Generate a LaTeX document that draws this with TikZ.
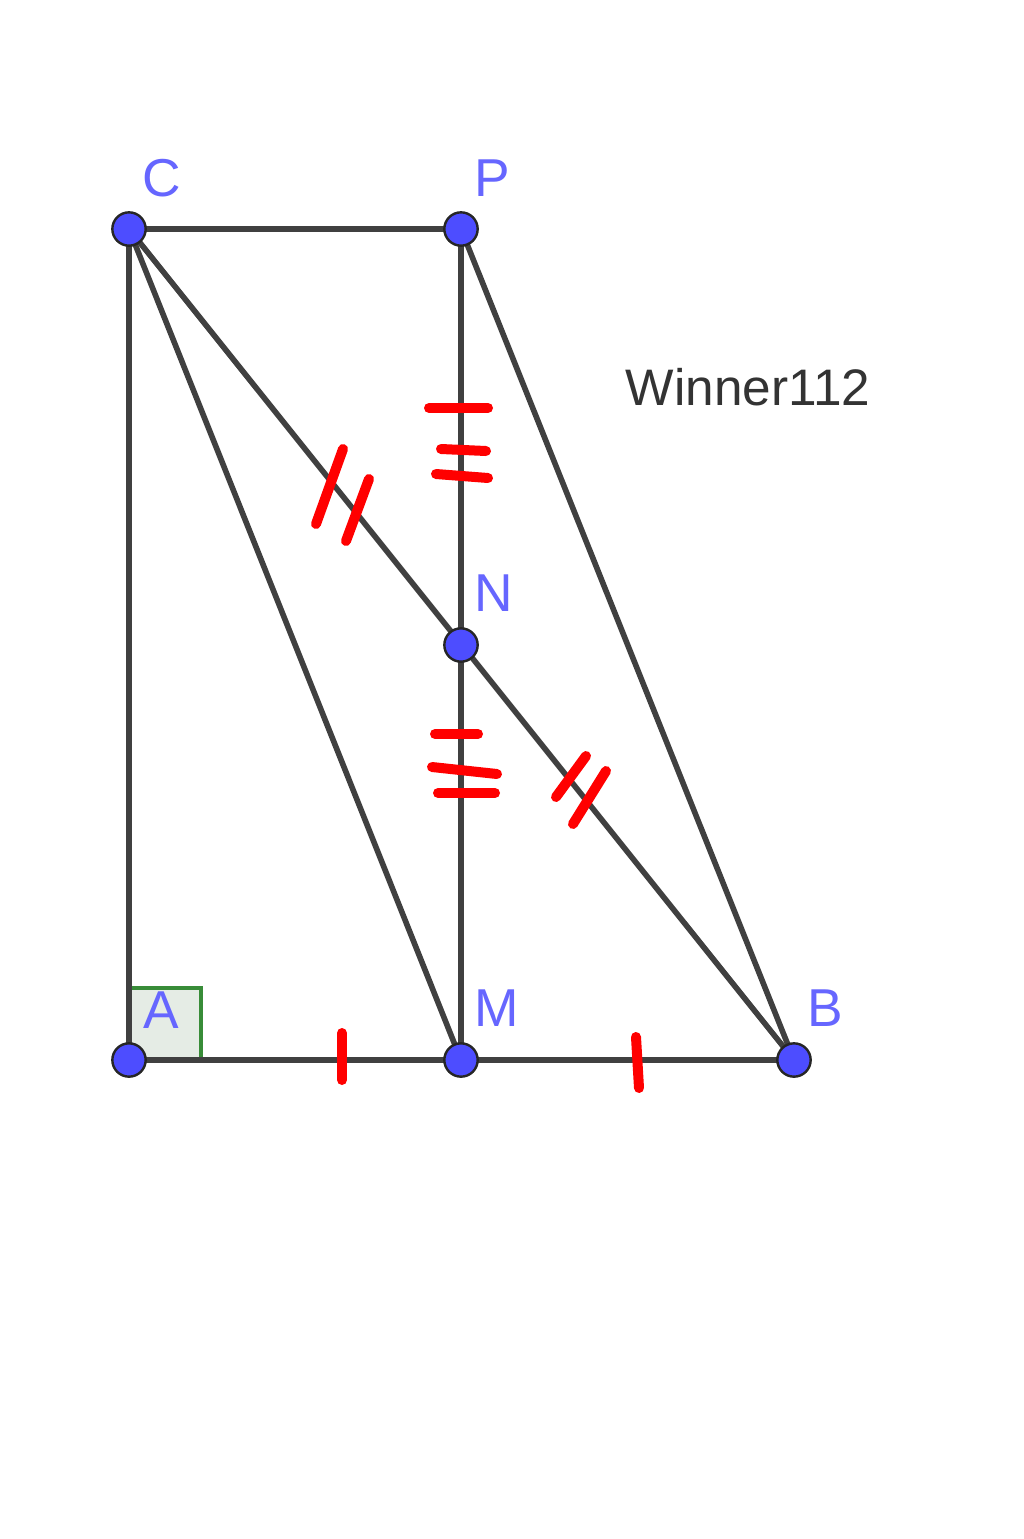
\documentclass[tikz,border=0pt]{standalone}
\usepackage{fontspec}
\setmainfont{Liberation Sans}
\definecolor{seg}{RGB}{64,64,64}
\definecolor{ptfill}{RGB}{77,77,255}
\definecolor{lbl}{RGB}{102,102,255}
\definecolor{angfill}{RGB}{229,236,229}
\definecolor{angline}{RGB}{56,140,56}
\begin{document}
\begin{tikzpicture}[x=0.75pt,y=-0.75pt,
  segline/.style={draw=seg,line width=4.2pt},
  tick/.style={draw=red,line width=7.5pt,line cap=round},
  dot/.style={circle,fill=ptfill,draw=black!85,line width=1.8pt,minimum size=25pt,inner sep=0pt},
  ptlabel/.style={text=lbl,font=\fontsize{40}{44}\selectfont,inner sep=0pt}]
\useasboundingbox (0,0) rectangle (1024,1539);
\fill[white] (0,0) rectangle (1024,1539);
\coordinate (C) at (129,229);
\coordinate (P) at (461,229);
\coordinate (N) at (461,645);
\coordinate (A) at (129,1060);
\coordinate (M) at (461,1060);
\coordinate (B) at (794,1060);
% right angle marker
\filldraw[fill=angfill,draw=angline,line width=3pt] (129,988) rectangle (201,1060);
% segments
\draw[segline] (C) -- (P);
\draw[segline] (C) -- (A);
\draw[segline] (A) -- (B);
\draw[segline] (P) -- (M);
\draw[segline] (C) -- (M);
\draw[segline] (C) -- (B);
\draw[segline] (P) -- (B);
% tick marks
\draw[tick] (342,1033) -- (342,1080);
\draw[tick] (636,1037) -- (639,1088);
\draw[tick] (429,408) -- (488,408);
\draw[tick] (441,449) -- (486,451);
\draw[tick] (436,474) -- (488,478);
\draw[tick] (435,734) -- (478,734);
\draw[tick] (432,767) -- (497,774);
\draw[tick] (438,793) -- (495,793);
\draw[tick] (343,449) -- (316,524);
\draw[tick] (369,479) -- (346,541);
\draw[tick] (586,756) -- (556,797);
\draw[tick] (606,771) -- (573,824);
% points
\node[dot] (nC) at (C) {};
\node[dot] (nP) at (P) {};
\node[dot] (nN) at (N) {};
\node[dot] (nA) at (A) {};
\node[dot] (nM) at (M) {};
\node[dot] (nB) at (B) {};
% labels
\node[ptlabel] (lC) at (162,178) {C};
\node[ptlabel] (lP) at (492,178) {P};
\node[ptlabel] (lN) at (494,593) {N};
\node[ptlabel] (lA) at (161,1010) {A};
\node[ptlabel] (lM) at (497,1008) {M};
\node[ptlabel] (lB) at (825,1008) {B};
\node[text=black!80,font=\fontsize{38.5}{42}\selectfont,inner sep=0pt] (w) at (748,387) {Winner112};
\end{tikzpicture}
\end{document}
